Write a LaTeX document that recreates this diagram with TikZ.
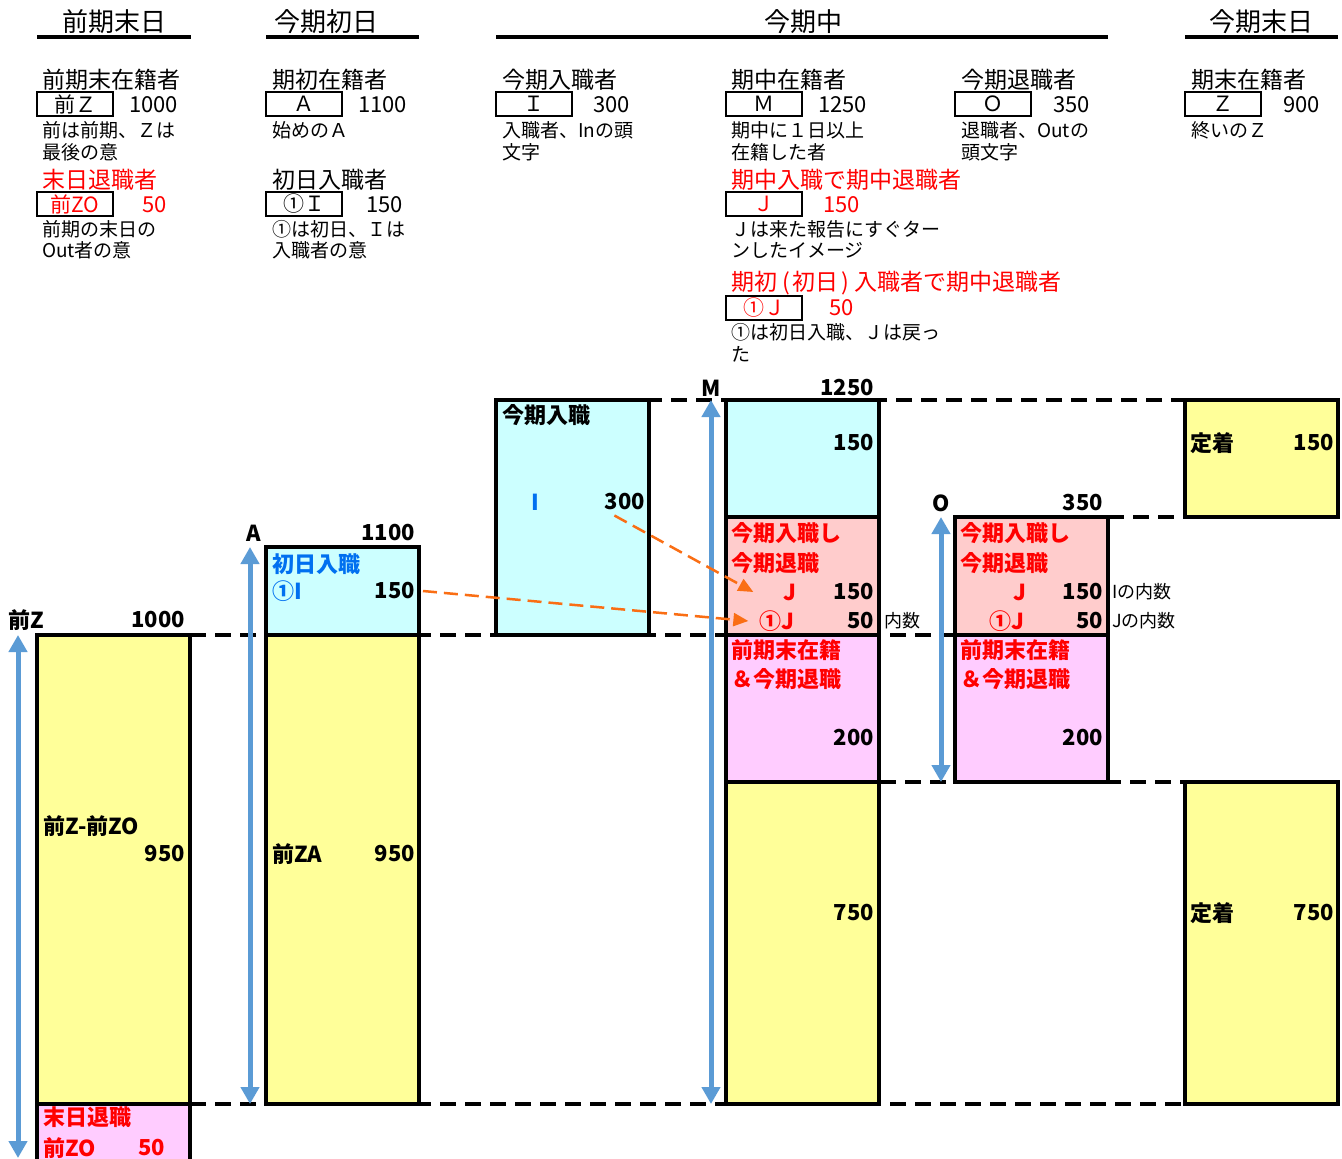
\documentclass[tikz,border=0pt]{standalone}
\usepackage{fontspec}
\setmainfont{Noto Sans CJK JP}
\usetikzlibrary{arrows.meta}
\definecolor{cyel}{RGB}{255,255,153}
\definecolor{ccyan}{RGB}{204,255,255}
\definecolor{csal}{RGB}{255,204,204}
\definecolor{cpink}{RGB}{255,204,255}
\definecolor{cred}{RGB}{255,0,0}
\definecolor{cblue}{RGB}{0,112,240}
\definecolor{carr}{RGB}{91,155,213}
\definecolor{corg}{RGB}{250,110,20}
\begin{document}
\begin{tikzpicture}[x=1pt,y=-1pt,
 hd/.style={inner sep=0,font=\fontsize{26}{30}\selectfont},
 hline/.style={line width=4pt},
 ttl/.style={inner sep=0,anchor=west,font=\fontsize{23}{26}\selectfont},
 nt/.style={inner sep=0,anchor=west,font=\fontsize{19}{22}\selectfont},
 tagbox/.style={draw,line width=2.2pt,inner sep=0,outer sep=0,minimum width=76pt,minimum height=24pt,anchor=north west,font=\fontsize{21}{24}\selectfont},
 val/.style={inner sep=0,anchor=west,font=\fontsize{22}{26}\selectfont},
 blk/.style={draw,line width=4pt,inner sep=0,outer sep=0,anchor=north west,minimum width=153pt},
 bt/.style={inner sep=0,anchor=west,font=\bfseries\fontsize{22}{26}\selectfont},
 bn/.style={inner sep=0,anchor=east,font=\bfseries\fontsize{22}{26}\selectfont},
 bc/.style={inner sep=0,anchor=center,font=\bfseries\fontsize{22}{26}\selectfont},
 sm/.style={inner sep=0,anchor=west,font=\fontsize{18}{22}\selectfont},
 dl/.style={line width=4pt,dash pattern=on 16pt off 9pt},
 barr/.style={draw=carr,line width=5pt,{Triangle[width=18pt,length=17pt]}-{Triangle[width=18pt,length=17pt]}},
 oarr/.style={draw=corg,line width=2.5pt,dash pattern=on 14pt off 7pt,-{Triangle[width=13pt,length=15pt]}},
]
\useasboundingbox (0,0) rectangle (1342,1159);
\fill[white] (0,0) rectangle (1342,1159);

% ---------- headings ----------
\node[hd] (h1) at (114,22) {前期末日};
\draw[hline] (37,37) -- (191,37);
\node[hd] (h2) at (326,22) {今期初日};
\draw[hline] (266,37) -- (419,37);
\node[hd] (h3) at (803,22) {今期中};
\draw[hline] (496,37) -- (1108,37);
\node[hd] (h4) at (1261,22) {今期末日};
\draw[hline] (1185,37) -- (1338,37);

% ---------- legend column 1 ----------
\node[ttl] (t1) at (42,80) {前期末在籍者};
\node[tagbox] (g1) at (37,92) {前Ｚ};
\node[val] (v1) at (129,105) {1000};
\node[nt] (n1a) at (42,130) {前は前期、Ｚは};
\node[nt] (n1b) at (42,152) {最後の意};
\node[ttl,text=cred] (t1r) at (42,180) {末日退職者};
\node[tagbox,text=cred] (g1r) at (37,192) {前ZO};
\node[val,text=cred] (v1r) at (142,205) {50};
\node[nt] (n1c) at (42,229) {前期の末日の};
\node[nt] (n1d) at (42,250) {Out者の意};

% ---------- legend column 2 ----------
\node[ttl] (t2) at (272,80) {期初在籍者};
\node[tagbox] (g2) at (266,92) {Ａ};
\node[val] (v2) at (358,105) {1100};
\node[nt] (n2a) at (272,130) {始めのＡ};
\node[ttl] (t2b) at (272,180) {初日入職者};
\node[tagbox] (g2b) at (266,192) {①Ｉ};
\node[val] (v2b) at (366,205) {150};
\node[nt] (n2c) at (272,229) {①は初日、Ｉは};
\node[nt] (n2d) at (272,250) {入職者の意};

% ---------- legend column 3 ----------
\node[ttl] (t3) at (502,80) {今期入職者};
\node[tagbox] (g3) at (496,92) {Ｉ};
\node[val] (v3) at (593,105) {300};
\node[nt] (n3a) at (502,130) {入職者、Inの頭};
\node[nt] (n3b) at (502,152) {文字};

% ---------- legend column 4 ----------
\node[ttl] (t4) at (731,80) {期中在籍者};
\node[tagbox] (g4) at (726,92) {Ｍ};
\node[val] (v4) at (818,105) {1250};
\node[nt] (n4a) at (731,130) {期中に１日以上};
\node[nt] (n4b) at (731,152) {在籍した者};
\node[ttl,text=cred] (t4r) at (731,180) {期中入職で期中退職者};
\node[tagbox,text=cred] (g4r) at (726,192) {Ｊ};
\node[val,text=cred] (v4r) at (823,205) {150};
\node[nt] (n4c) at (731,229) {Ｊは来た報告にすぐター};
\node[nt] (n4d) at (731,250) {ンしたイメージ};
\node[ttl,text=cred] (t4s) at (731,283) {期初\hspace{5pt}(\hspace{3pt}初日\hspace{3pt})\hspace{5pt}入職者で期中退職者};
\node[tagbox,text=cred] (g4s) at (726,296) {①Ｊ};
\node[val,text=cred] (v4s) at (829,308) {50};
\node[nt] (n4e) at (731,332) {①は初日入職、Ｊは戻っ};
\node[nt] (n4f) at (731,354) {た};

% ---------- legend column 5 ----------
\node[ttl] (t5) at (961,80) {今期退職者};
\node[tagbox] (g5) at (955,92) {Ｏ};
\node[val] (v5) at (1053,105) {350};
\node[nt] (n5a) at (961,130) {退職者、Outの};
\node[nt] (n5b) at (961,152) {頭文字};

% ---------- legend column 6 ----------
\node[ttl] (t6) at (1191,80) {期末在籍者};
\node[tagbox] (g6) at (1185,92) {Ｚ};
\node[val] (v6) at (1283,105) {900};
\node[nt] (n6a) at (1191,130) {終いのＺ};

% ---------- dashed level lines ----------
\draw[dl] (496,400) -- (1338,400);
\draw[dl] (1108,517) -- (1185,517);
\draw[dl] (190,635) -- (1108,635);
\draw[dl] (880,782) -- (1185,782);
\draw[dl] (190,1104) -- (1185,1104);

% ---------- blocks ----------
\node[blk,fill=cyel,minimum height=469pt] (bZ) at (37,635) {};
\fill[cpink] (37,1104) rectangle (190,1161);
\draw[line width=4pt] (37,1162) -- (37,1104) -- (190,1104) -- (190,1162);

\node[blk,fill=ccyan,minimum height=88pt] (bA1) at (266,547) {};
\node[blk,fill=cyel,minimum height=469pt] (bA2) at (266,635) {};

\node[blk,fill=ccyan,minimum height=235pt] (bI) at (496,400) {};

\node[blk,fill=ccyan,minimum height=117pt] (bM1) at (726,400) {};
\node[blk,fill=csal,minimum height=118pt] (bM2) at (726,517) {};
\node[blk,fill=cpink,minimum height=147pt] (bM3) at (726,635) {};
\node[blk,fill=cyel,minimum height=322pt] (bM4) at (726,782) {};

\node[blk,fill=csal,minimum height=118pt] (bO1) at (955,517) {};
\node[blk,fill=cpink,minimum height=147pt] (bO2) at (955,635) {};

\node[blk,fill=cyel,minimum height=117pt] (bE1) at (1185,400) {};
\node[blk,fill=cyel,minimum height=322pt] (bE2) at (1185,782) {};

% ---------- block texts ----------
\node[bt] (lZ) at (8,620) {前Z};
\node[bn] (lZn) at (185,620) {1000};
\node[bt] (zx) at (43,826) {前Z-前ZO};
\node[bn] (zxn) at (185,854) {950};
\node[bt,text=cred] (zo1) at (43,1117) {末日退職};
\node[bt,text=cred] (zo2) at (43,1148) {前ZO};
\node[bn,text=cred] (zo3) at (165,1148) {50};

\node[bc] (lA) at (254,533) {A};
\node[bn] (lAn) at (415,533) {1100};
\node[bt,text=cblue] (a1) at (272,564) {初日入職};
\node[bt,text=cblue] (a2) at (272,591) {①I};
\node[bn] (n150a) at (415,591) {150};
\node[bt] (a3) at (272,854) {前ZA};
\node[bn] (a4) at (415,854) {950};

\node[bt] (i1) at (502,415) {今期入職};
\node[bc,text=cblue] (i2) at (535,502) {I};
\node[bn] (n300) at (645,502) {300};

\node[bc] (lM) at (711,388) {M};
\node[bn] (lMn) at (874,388) {1250};
\node[bn] (m0) at (874,443) {150};
\node[bt,text=cred] (m1) at (731,533) {今期入職し};
\node[bt,text=cred] (m2) at (731,563) {今期退職};
\node[bc,text=cred] (mJ) at (790,592) {J};
\node[bn] (m3) at (874,592) {150};
\node[bc,text=cred] (m1J) at (777,621) {①J};
\node[bn] (m4) at (874,621) {50};
\node[sm] (m5) at (884,621) {内数};
\node[bt,text=cred] (m6) at (731,650) {前期末在籍};
\node[bt,text=cred] (m7) at (731,679) {＆今期退職};
\node[bn] (m8) at (874,738) {200};
\node[bn] (m9) at (874,913) {750};

\node[bc] (lO) at (941,503) {O};
\node[bn] (lOn) at (1103,503) {350};
\node[bt,text=cred] (o1) at (960,533) {今期入職し};
\node[bt,text=cred] (o2) at (960,563) {今期退職};
\node[bc,text=cred] (oJ) at (1020,592) {J};
\node[bn] (o3) at (1103,592) {150};
\node[bc,text=cred] (o1J) at (1007,621) {①J};
\node[bn] (o4) at (1103,621) {50};
\node[sm] (o5) at (1112,592) {Iの内数};
\node[sm] (o6) at (1112,621) {Jの内数};
\node[bt,text=cred] (o7) at (960,650) {前期末在籍};
\node[bt,text=cred] (o8) at (960,679) {＆今期退職};
\node[bn] (o9) at (1103,738) {200};

\node[bt] (e1) at (1190,443) {定着};
\node[bn] (e2) at (1334,443) {150};
\node[bt] (e3) at (1190,913) {定着};
\node[bn] (e4) at (1334,913) {750};

% ---------- blue span arrows ----------
\coordinate (zt) at (18,635);
\coordinate (zb) at (18,1158);
\coordinate (at) at (250,547);
\coordinate (ab) at (250,1104);
\coordinate (mt) at (711,400);
\coordinate (mb) at (711,1104);
\coordinate (ot) at (941,517);
\coordinate (ob) at (941,782);
\draw[barr] (zt) -- (zb);
\draw[barr] (at) -- (ab);
\draw[barr] (mt) -- (mb);
\draw[barr] (ot) -- (ob);

% ---------- orange dashed arrows ----------
\draw[oarr] ([xshift=10pt,yshift=-5pt]n300.south west) -- ([xshift=-30pt]mJ.west);
\draw[oarr] ([xshift=8pt]n150a.east) -- ([xshift=-11pt]m1J.west);
\end{tikzpicture}
\end{document}
